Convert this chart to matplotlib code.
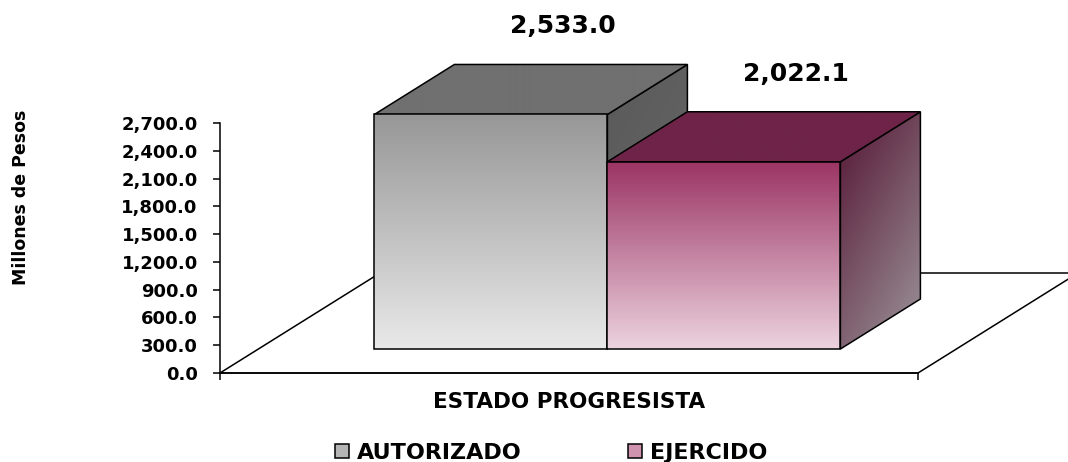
import numpy as np
import matplotlib
matplotlib.use("Agg")
import matplotlib.pyplot as plt
from matplotlib.patches import Polygon, Patch
from matplotlib.colors import to_rgb

# data
categories = ["ESTADO PROGRESISTA"]
series = ["AUTORIZADO", "EJERCIDO"]
values = [2533.0, 2022.1]
yticks = [0, 300, 600, 900, 1200, 1500, 1800, 2100, 2400, 2700]

# shading: front (top, bottom), top face, side (dark, light), legend swatch
front_cols = [("#979797", "#e9e9e9"), ("#9b3464", "#ecd3df")]
top_cols = ["#707070", "#6e2448"]
side_cols = [("#5b5b5b", "#676767"), ("#5a1f3c", "#978b92")]
legend_cols = ["#b5b5b5", "#cf93b0"]

plt.rcParams["font.family"] = "DejaVu Sans"
plt.rcParams["font.weight"] = "bold"

fig = plt.figure(figsize=(10.68, 4.62), dpi=100)
ax = fig.add_axes([0, 0, 1, 1])
ax.set_autoscale_on(False)

# fake 3d geometry (floor depth as fractions of the axes units)
px_x = 1 / 698.0     # x units per pixel
px_y = 2700 / 250.0  # value units per pixel
DX = 160 * px_x
DY = 100 * px_y
d0, d1 = 0.24, 0.74
bar_w = 233 * px_x
LW = 1.1


def off(x, y, d):
    return (x + d * DX, y + d * DY)


def face(verts, c0, c1, mode, z):
    verts = np.array(verts)
    clip = Polygon(verts, closed=True, fc="none", ec="none")
    ax.add_patch(clip)
    n = 200
    U, V = np.meshgrid(np.linspace(0, 1, n), np.linspace(0, 1, n))
    if mode == "v":
        t = V
    elif mode == "flat":
        t = np.zeros_like(V)
    else:
        t = np.clip(0.45 * U + 0.75 * V - 0.1, 0, 1)
    a, b = np.array(to_rgb(c0)), np.array(to_rgb(c1))
    img = a + t[..., None] * (b - a)
    im = ax.imshow(img, extent=(verts[:, 0].min(), verts[:, 0].max(),
                                verts[:, 1].min(), verts[:, 1].max()),
                   origin="upper", aspect="auto", interpolation="bilinear", zorder=z)
    im.set_clip_path(clip)
    ax.add_patch(Polygon(verts, closed=True, fc="none", ec="black", lw=LW, zorder=z + 0.01))


# floor
floor = [(0, 0), (1, 0), off(1, 0, 1), off(0, 0, 1)]
ax.add_patch(Polygon(floor, closed=True, fc="white", ec="black", lw=LW, zorder=1, clip_on=False))

z = 2
for i, v in enumerate(values):
    xl = 0.5 - bar_w + i * bar_w
    xr = xl + bar_w
    side = [off(xr, 0, d0), off(xr, v, d0), off(xr, v, d1), off(xr, 0, d1)]
    face(side, side_cols[i][0], side_cols[i][1], "diag", z)
    top = [off(xl, v, d0), off(xr, v, d0), off(xr, v, d1), off(xl, v, d1)]
    face(top, top_cols[i], top_cols[i], "flat", z + 0.1)
    front = [off(xl, 0, d0), off(xr, 0, d0), off(xr, v, d0), off(xl, v, d0)]
    face(front, front_cols[i][0], front_cols[i][1], "v", z + 0.2)
    z += 1
    ax.annotate(f"{v:,.1f}", xy=off((xl + xr) / 2, v, d1), xytext=(-8, 38),
                textcoords="offset pixels", ha="center", va="center",
                fontsize=18, fontweight="bold", zorder=10)

# axes: y spine on the front plane, x spine is the front edge of the floor
for s in ["top", "right"]:
    ax.spines[s].set_visible(False)
ax.spines["left"].set_position(("data", 0))
ax.spines["left"].set_bounds(0, 2700)
ax.spines["bottom"].set_position(("data", 0))
ax.spines["bottom"].set_bounds(0, 1)
for s in ["left", "bottom"]:
    ax.spines[s].set_linewidth(LW)

ax.set_yticks(yticks)
ax.set_yticklabels([f"{t:,.1f}" for t in yticks])
ax.tick_params(axis="y", direction="out", length=5, width=LW, pad=11, labelsize=13)

ax.set_xticks([0.5])
ax.set_xticklabels(categories)
ax.set_xticks([0, 1], minor=True)
ax.tick_params(axis="x", which="major", length=0, pad=14, labelsize=15.5)
ax.tick_params(axis="x", which="minor", direction="out", length=5, width=LW)

ax.set_ylabel("Millones de Pesos", fontsize=12.5, fontweight="bold")
ax.yaxis.set_label_coords(30 / 1068, 1 - 197 / 462)

handles = [Patch(fc=legend_cols[i], ec="black", lw=LW, label=s) for i, s in enumerate(series)]
ax.legend(handles=handles, loc="center left", bbox_to_anchor=(335 / 1068, 1 - 453 / 462),
          bbox_transform=fig.transFigure, ncol=2, frameon=False, borderpad=0, borderaxespad=0,
          prop=dict(size=16, weight="bold"), handlelength=0.63, handleheight=0.6,
          handletextpad=0.36, columnspacing=4.8)

ax.set_xlim(-220 * px_x, (1068 - 220) * px_x)
ax.set_ylim(-(462 - 373) * px_y, 373 * px_y)

fig.savefig("out.png", dpi=100)
